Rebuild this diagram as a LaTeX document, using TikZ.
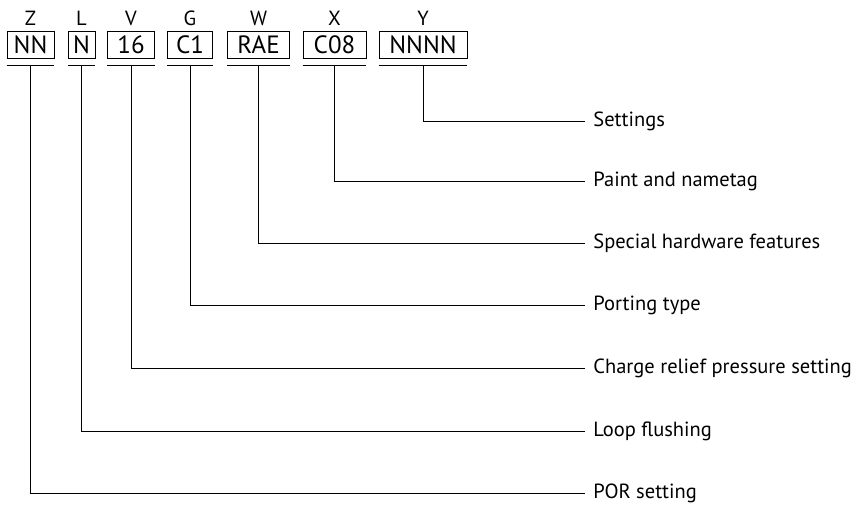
\documentclass[tikz,border=0pt]{standalone}
\usepackage{fontspec}
\setmainfont{PT Sans}
\begin{document}
\begin{tikzpicture}[x=1pt, y=-1pt, line width=0.8pt,
  code/.style = {draw, minimum height=27pt, inner sep=0pt, font=\fontsize{25}{25}\selectfont},
  field/.style = {font=\fontsize{20.5}{20.5}\selectfont},
  desc/.style = {anchor=west, inner xsep=8pt, inner ysep=0pt, font=\fontsize{20.5}{20.5}\selectfont},
  uline/.style = {yshift=-7pt}]
\useasboundingbox (0,0) rectangle (856,511);

% code boxes
\node[code, minimum width=47pt] (nn)   at (30.5,44.5)  {NN};
\node[code, minimum width=27pt] (n)    at (81.5,44.5)  {N};
\node[code, minimum width=47pt] (v16)  at (131,44.5)   {16};
\node[code, minimum width=45pt] (c1)   at (190,44.5)   {C1};
\node[code, minimum width=62pt] (rae)  at (258.5,44.5) {RAE};
\node[code, minimum width=63pt] (c08)  at (334.5,44.5) {C08};
\node[code, minimum width=88pt] (nnnn) at (423,44.5)   {NNNN};

% field letters
\node[field] at (30.5,18)  {Z};
\node[field] at (81.5,18)  {L};
\node[field] at (131,18)   {V};
\node[field] at (190,18)   {G};
\node[field] at (258.5,18) {W};
\node[field] at (334.5,18) {X};
\node[field] at (423,18)   {Y};

% underlines
\foreach \b in {nn,n,v16,c1,rae,c08,nnnn}
  \draw ([uline]\b.south west) -- ([uline]\b.south east);

% descriptions
\node[desc] (set)  at (585,121) {Settings};
\node[desc] (pnt)  at (585,181) {Paint and nametag};
\node[desc] (hw)   at (585,243) {Special hardware features};
\node[desc] (port) at (585,305) {Porting type};
\node[desc] (chg)  at (585,368) {Charge relief pressure setting};
\node[desc] (loop) at (585,431) {Loop flushing};
\node[desc] (por)  at (585,493) {POR setting};

\draw ([uline]nnnn.south) |- (set.west);
\draw ([uline]c08.south)  |- (pnt.west);
\draw ([uline]rae.south)  |- (hw.west);
\draw ([uline]c1.south)   |- (port.west);
\draw ([uline]v16.south)  |- (chg.west);
\draw ([uline]n.south)    |- (loop.west);
\draw ([uline]nn.south)   |- (por.west);
\end{tikzpicture}
\end{document}
